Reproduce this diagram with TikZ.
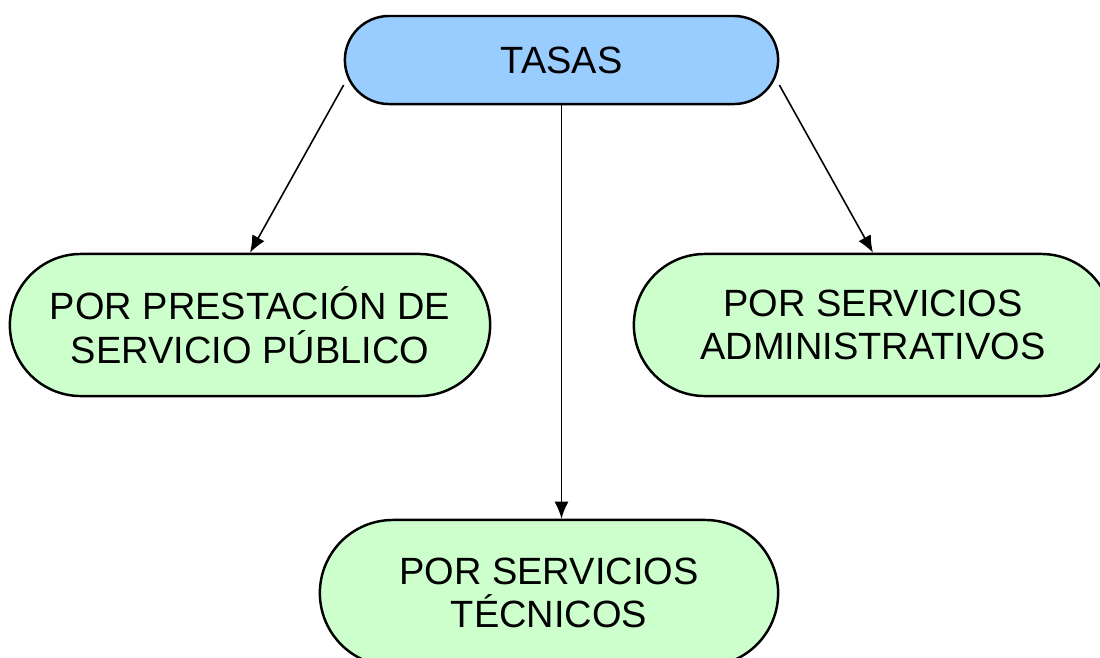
\documentclass[tikz,border=0pt]{standalone}
\usepackage{fontspec}
\setmainfont{Liberation Sans}
\usetikzlibrary{arrows.meta, shapes.misc}

\definecolor{tasasblue}{HTML}{99CCFF}
\definecolor{ramagreen}{HTML}{CCFFCC}

\tikzset{
    caja/.style={rounded rectangle, draw, line width=0.7pt, inner sep=0pt, align=center,
        font=\fontsize{10.8}{12.4}\selectfont},
    flecha/.style={-{Latex[length=0.17cm, width=0.14cm]}, line width=0.45pt}
}

\begin{document}
\begin{tikzpicture}[x=0.01cm, y=-0.01cm]
            \useasboundingbox (0,0) rectangle (1100,657);
            \node[caja, fill=tasasblue, minimum width=4.33cm, minimum height=0.88cm] (tasas) at (561.5,60) {TASAS};
            \node[caja, fill=ramagreen, minimum width=4.80cm, minimum height=1.42cm] (prest) at (250,325) {POR PRESTACIÓN DE\\SERVICIO PÚBLICO};
            \node[caja, fill=ramagreen, minimum width=4.78cm, minimum height=1.42cm] (admin) at (873,325) {POR SERVICIOS\\ADMINISTRATIVOS};
            \node[caja, fill=ramagreen, minimum width=4.58cm, minimum height=1.46cm] (tec) at (549,593) {POR SERVICIOS\\TÉCNICOS};

            \draw[flecha] ([yshift=-0.25cm]tasas.west) -- (prest.north);
            \draw[flecha] (tasas.south) -- (tasas.south |- tec.north);
            \draw[flecha] ([yshift=-0.25cm]tasas.east) -- (admin.north);
        \end{tikzpicture}
\end{document}
